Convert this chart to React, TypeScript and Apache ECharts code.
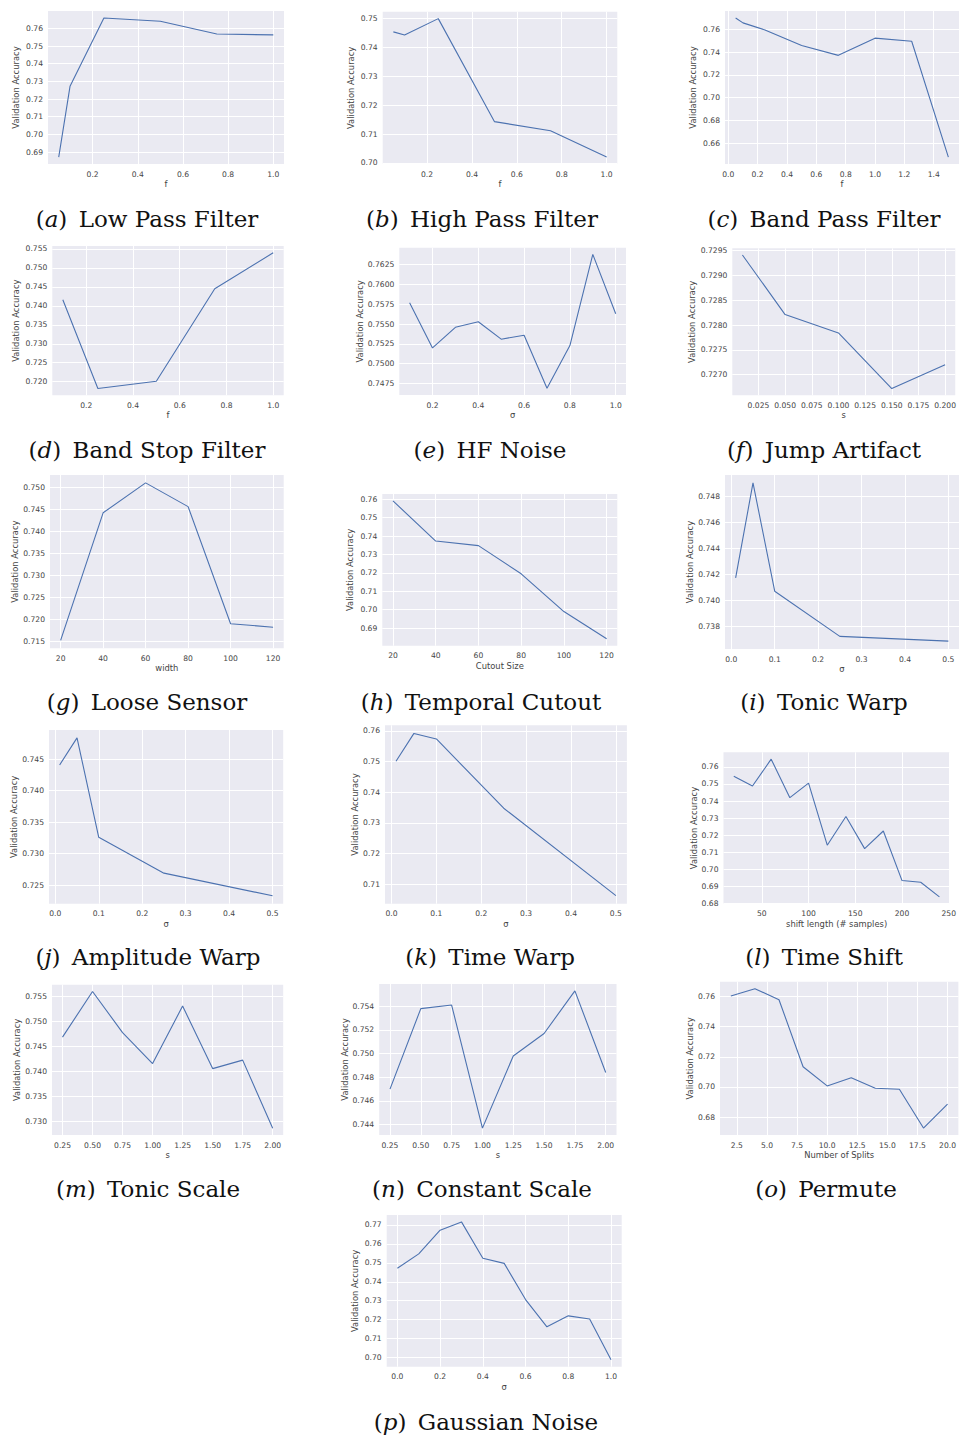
import React, { useEffect, useRef } from 'react';
import * as echarts from 'echarts';

// ---------- data ----------
const xLowPass = [0.05, 0.1, 0.25, 0.5, 0.75, 1.0];
const yLowPass = [0.6872, 0.7272, 0.7659, 0.764, 0.7568, 0.7563];
const xHighPass = [0.05, 0.1, 0.25, 0.5, 0.75, 1.0];
const yHighPass = [0.7454, 0.7443, 0.75, 0.7143, 0.7111, 0.702];
const xBandPass = [0.05, 0.1, 0.25, 0.5, 0.75, 1.0, 1.25, 1.5];
const yBandPass = [0.7699, 0.7656, 0.7594, 0.7458, 0.7371, 0.7522, 0.7495, 0.6479];
const xBandStop = [0.1, 0.25, 0.5, 0.75, 1.0];
const yBandStop = [0.7416, 0.7182, 0.7201, 0.7445, 0.754];
const xHFNoise = [0.1, 0.2, 0.3, 0.4, 0.5, 0.6, 0.7, 0.8, 0.9, 1.0];
const yHFNoise = [0.7577, 0.752, 0.7546, 0.7553, 0.7531, 0.7536, 0.7469, 0.7523, 0.7638, 0.7563];
const xJump = [0.01, 0.05, 0.1, 0.15, 0.2];
const yJump = [0.72941, 0.72821, 0.72784, 0.72672, 0.7272];
const xLoose = [20, 40, 60, 80, 100, 120];
const yLoose = [0.7152, 0.7442, 0.751, 0.7456, 0.719, 0.7182];
const xCutout = [20, 40, 60, 80, 100, 120];
const yCutout = [0.7591, 0.7373, 0.7348, 0.7195, 0.699, 0.6842];
const xTonicWarp = [0.01, 0.05, 0.1, 0.25, 0.5];
const yTonicWarp = [0.74174, 0.74903, 0.74071, 0.73724, 0.73688];
const xAmpWarp = [0.01, 0.05, 0.1, 0.25, 0.5];
const yAmpWarp = [0.7441, 0.7484, 0.7326, 0.7269, 0.7233];
const xTimeWarp = [0.01, 0.05, 0.1, 0.25, 0.5];
const yTimeWarp = [0.7501, 0.7592, 0.7574, 0.7348, 0.7063];
const xShift = [20, 40, 60, 80, 100, 120, 140, 160, 180, 200, 220, 240];
const yShift = [0.7545, 0.7488, 0.7645, 0.742, 0.7505, 0.7142, 0.731, 0.7122, 0.7225, 0.6935, 0.6925, 0.684];
const xTonicScale = [0.25, 0.5, 0.75, 1.0, 1.25, 1.5, 1.75, 2.0];
const yTonicScale = [0.7468, 0.7559, 0.7477, 0.7415, 0.753, 0.7405, 0.7422, 0.7286];
const xConstScale = [0.25, 0.5, 0.75, 1.0, 1.25, 1.5, 1.75, 2.0];
const yConstScale = [0.747, 0.7538, 0.7541, 0.7437, 0.7498, 0.7517, 0.7553, 0.7484];
const xPermute = [2, 4, 6, 8, 10, 12, 14, 16, 18, 20];
const yPermute = [0.7602, 0.7651, 0.7578, 0.7134, 0.7007, 0.7061, 0.6991, 0.6985, 0.6728, 0.6886];
const xGauss = [0.0, 0.1, 0.2, 0.3, 0.4, 0.5, 0.6, 0.7, 0.8, 0.9, 1.0];
const yGauss = [0.7471, 0.7547, 0.7672, 0.7716, 0.7524, 0.7497, 0.7306, 0.7162, 0.722, 0.7203, 0.6988];

// ---------- tick labels ----------
const xtF = ['0.2', '0.4', '0.6', '0.8', '1.0'];
const xtBand = ['0.0', '0.2', '0.4', '0.6', '0.8', '1.0', '1.2', '1.4'];
const xtJump = ['0.025', '0.050', '0.075', '0.100', '0.125', '0.150', '0.175', '0.200'];
const xtWidth = ['20', '40', '60', '80', '100', '120'];
const xtSigma5 = ['0.0', '0.1', '0.2', '0.3', '0.4', '0.5'];
const xtShift = ['50', '100', '150', '200', '250'];
const xtScale = ['0.25', '0.50', '0.75', '1.00', '1.25', '1.50', '1.75', '2.00'];
const xtSplits = ['2.5', '5.0', '7.5', '10.0', '12.5', '15.0', '17.5', '20.0'];
const xtGauss = ['0.0', '0.2', '0.4', '0.6', '0.8', '1.0'];

const ytLowPass = ['0.69', '0.70', '0.71', '0.72', '0.73', '0.74', '0.75', '0.76'];
const ytHighPass = ['0.70', '0.71', '0.72', '0.73', '0.74', '0.75'];
const ytBandPass = ['0.66', '0.68', '0.70', '0.72', '0.74', '0.76'];
const ytBandStop = ['0.720', '0.725', '0.730', '0.735', '0.740', '0.745', '0.750', '0.755'];
const ytHFNoise = ['0.7475', '0.7500', '0.7525', '0.7550', '0.7575', '0.7600', '0.7625'];
const ytJump = ['0.7270', '0.7275', '0.7280', '0.7285', '0.7290', '0.7295'];
const ytLoose = ['0.715', '0.720', '0.725', '0.730', '0.735', '0.740', '0.745', '0.750'];
const ytCutout = ['0.69', '0.70', '0.71', '0.72', '0.73', '0.74', '0.75', '0.76'];
const ytTonicWarp = ['0.738', '0.740', '0.742', '0.744', '0.746', '0.748'];
const ytAmpWarp = ['0.725', '0.730', '0.735', '0.740', '0.745'];
const ytTimeWarp = ['0.71', '0.72', '0.73', '0.74', '0.75', '0.76'];
const ytShift = ['0.68', '0.69', '0.70', '0.71', '0.72', '0.73', '0.74', '0.75', '0.76'];
const ytTonicScale = ['0.730', '0.735', '0.740', '0.745', '0.750', '0.755'];
const ytConstScale = ['0.744', '0.746', '0.748', '0.750', '0.752', '0.754'];
const ytPermute = ['0.68', '0.70', '0.72', '0.74', '0.76'];
const ytGauss = ['0.70', '0.71', '0.72', '0.73', '0.74', '0.75', '0.76', '0.77'];

// ---------- captions / axis names ----------
const letters = ['a', 'b', 'c', 'd', 'e', 'f', 'g', 'h', 'i', 'j', 'k', 'l', 'm', 'n', 'o', 'p'];
const titles = [
  'Low Pass Filter', 'High Pass Filter', 'Band Pass Filter', 'Band Stop Filter',
  'HF Noise', 'Jump Artifact', 'Loose Sensor', 'Temporal Cutout', 'Tonic Warp',
  'Amplitude Warp', 'Time Warp', 'Time Shift', 'Tonic Scale', 'Constant Scale',
  'Permute', 'Gaussian Noise',
];
const xNames = ['f', 'f', 'f', 'f', 'σ', 's', 'width', 'Cutout Size', 'σ', 'σ', 'σ',
  'shift length (# samples)', 's', 's', 'Number of Splits', 'σ'];
const yName = 'Validation Accuracy';

const panelData = [
  [xLowPass, yLowPass, xtF, ytLowPass],
  [xHighPass, yHighPass, xtF, ytHighPass],
  [xBandPass, yBandPass, xtBand, ytBandPass],
  [xBandStop, yBandStop, xtF, ytBandStop],
  [xHFNoise, yHFNoise, xtF, ytHFNoise],
  [xJump, yJump, xtJump, ytJump],
  [xLoose, yLoose, xtWidth, ytLoose],
  [xCutout, yCutout, xtWidth, ytCutout],
  [xTonicWarp, yTonicWarp, xtSigma5, ytTonicWarp],
  [xAmpWarp, yAmpWarp, xtSigma5, ytAmpWarp],
  [xTimeWarp, yTimeWarp, xtSigma5, ytTimeWarp],
  [xShift, yShift, xtShift, ytShift],
  [xTonicScale, yTonicScale, xtScale, ytTonicScale],
  [xConstScale, yConstScale, xtScale, ytConstScale],
  [xPermute, yPermute, xtSplits, ytPermute],
  [xGauss, yGauss, xtGauss, ytGauss],
] as const;

// ---------- layout (pixels): plot left, top, right, bottom, y-name gap, caption x, caption y ----------
const layout = [
  { l: 48, t: 11, r: 284, b: 164, yg: 28, cx: 147, cy: 219 },
  { l: 382.7, t: 11.7, r: 617.3, b: 164, yg: 27.5, cx: 482, cy: 219 },
  { l: 725, t: 11, r: 959.3, b: 164, yg: 28, cx: 824, cy: 219 },
  { l: 52.3, t: 246, r: 283.7, b: 395.3, yg: 32, cx: 147, cy: 450 },
  { l: 399.3, t: 247.7, r: 626, b: 395, yg: 35.5, cx: 490, cy: 450 },
  { l: 732.3, t: 248.3, r: 959.6, b: 395.3, yg: 36, cx: 824, cy: 450 },
  { l: 50, t: 475, r: 283.7, b: 648.3, yg: 30.5, cx: 147, cy: 702 },
  { l: 382.3, t: 494, r: 617.3, b: 645.7, yg: 28, cx: 481, cy: 702 },
  { l: 725, t: 475, r: 959.3, b: 649, yg: 29, cx: 824, cy: 702 },
  { l: 49, t: 730, r: 283.2, b: 903.7, yg: 29, cx: 148, cy: 957 },
  { l: 385, t: 725.3, r: 626.9, b: 903.7, yg: 22, cx: 490, cy: 957 },
  { l: 723.5, t: 752.3, r: 952.5, b: 903.7, yg: 26, cx: 824, cy: 957 },
  { l: 52, t: 984.7, r: 283.2, b: 1135, yg: 31, cx: 148, cy: 1189 },
  { l: 379.2, t: 984, r: 616.5, b: 1135, yg: 25, cx: 482, cy: 1189 },
  { l: 720, t: 981.7, r: 959, b: 1135, yg: 24, cx: 826, cy: 1189 },
  { l: 386.7, t: 1215, r: 621.7, b: 1366.7, yg: 28, cx: 486, cy: 1422 },
];

const BG = '#EAEAF2';
const LINE = '#4C72B0';
const TXT = '#444444';
const SANS = 'DejaVu Sans';
const SERIF = 'DejaVu Serif';

function pad(v: readonly number[]): [number, number] {
  const lo = Math.min(...v);
  const hi = Math.max(...v);
  const m = (hi - lo) * 0.05;
  return [lo - m, hi + m];
}

function labelFmt(labels: readonly string[]) {
  return (v: number) => {
    let best = labels[0];
    let bd = Infinity;
    for (const s of labels) {
      const d = Math.abs(Number(s) - v);
      if (d < bd) { bd = d; best = s; }
    }
    return best;
  };
}

function buildOption() {
  const grid: any[] = [];
  const xAxis: any[] = [];
  const yAxis: any[] = [];
  const series: any[] = [];
  const graphic: any[] = [];
  panelData.forEach(([xs, ys, xt, yt], i) => {
    const L = layout[i];
    grid.push({
      left: L.l, top: L.t, width: L.r - L.l, height: L.b - L.t,
      show: true, backgroundColor: BG, borderWidth: 0, containLabel: false,
    });
    const [x0, x1] = pad(xs);
    const [y0, y1] = pad(ys);
    const xv = xt.map(Number);
    const yv = yt.map(Number);
    xAxis.push({
      type: 'value', gridIndex: i, min: x0, max: x1,
      name: xNames[i], nameLocation: 'middle', nameGap: 16,
      nameTextStyle: { fontFamily: SANS, fontSize: 8.4, color: TXT },
      axisLine: { show: false },
      axisTick: { show: false, customValues: xv },
      axisLabel: { customValues: xv, formatter: labelFmt(xt), margin: 6, fontFamily: SANS, fontSize: 7.6, color: TXT, showMinLabel: true, showMaxLabel: true, hideOverlap: false },
      splitLine: { show: true, lineStyle: { color: '#ffffff', width: 1 } },
    });
    yAxis.push({
      type: 'value', gridIndex: i, min: y0, max: y1,
      name: yName, nameLocation: 'middle', nameGap: L.yg,
      nameTextStyle: { fontFamily: SANS, fontSize: 8.4, color: TXT },
      axisLine: { show: false },
      axisTick: { show: false, customValues: yv },
      axisLabel: { customValues: yv, formatter: labelFmt(yt), margin: 5, fontFamily: SANS, fontSize: 7.6, color: TXT, showMinLabel: true, showMaxLabel: true, hideOverlap: false },
      splitLine: { show: true, lineStyle: { color: '#ffffff', width: 1 } },
    });
    series.push({
      type: 'line', xAxisIndex: i, yAxisIndex: i,
      data: xs.map((x, k) => [x, ys[k]]),
      showSymbol: false, symbol: 'none',
      lineStyle: { color: LINE, width: 1.1 },
      silent: true,
    });
    graphic.push({
      type: 'text', x: L.cx, y: L.cy,
      style: {
        text: `{n|(}{i|${letters[i]}}{p|)}{n| ${titles[i]}}`,
        align: 'center', verticalAlign: 'middle',
        fill: '#111',
        rich: {
          n: { fontFamily: SERIF, fontSize: 23, fill: '#111' },
          p: { fontFamily: SERIF, fontSize: 23, fill: '#111', padding: [0, 4, 0, 0] },
          i: { fontFamily: SERIF, fontSize: 23, fontStyle: 'italic', fill: '#111' },
        },
      },
    });
  });
  return {
    animation: false,
    backgroundColor: '#ffffff',
    grid, xAxis, yAxis, series, graphic,
  };
}

export default function App() {
  const ref = useRef<HTMLDivElement>(null);
  useEffect(() => {
    document.body.style.margin = '0';
    if (!ref.current) return;
    const chart = echarts.init(ref.current, null, { renderer: 'svg' });
    chart.setOption(buildOption() as any);
    return () => chart.dispose();
  }, []);
  return <div ref={ref} style={{ width: 959, height: 1437 }} />;
}
